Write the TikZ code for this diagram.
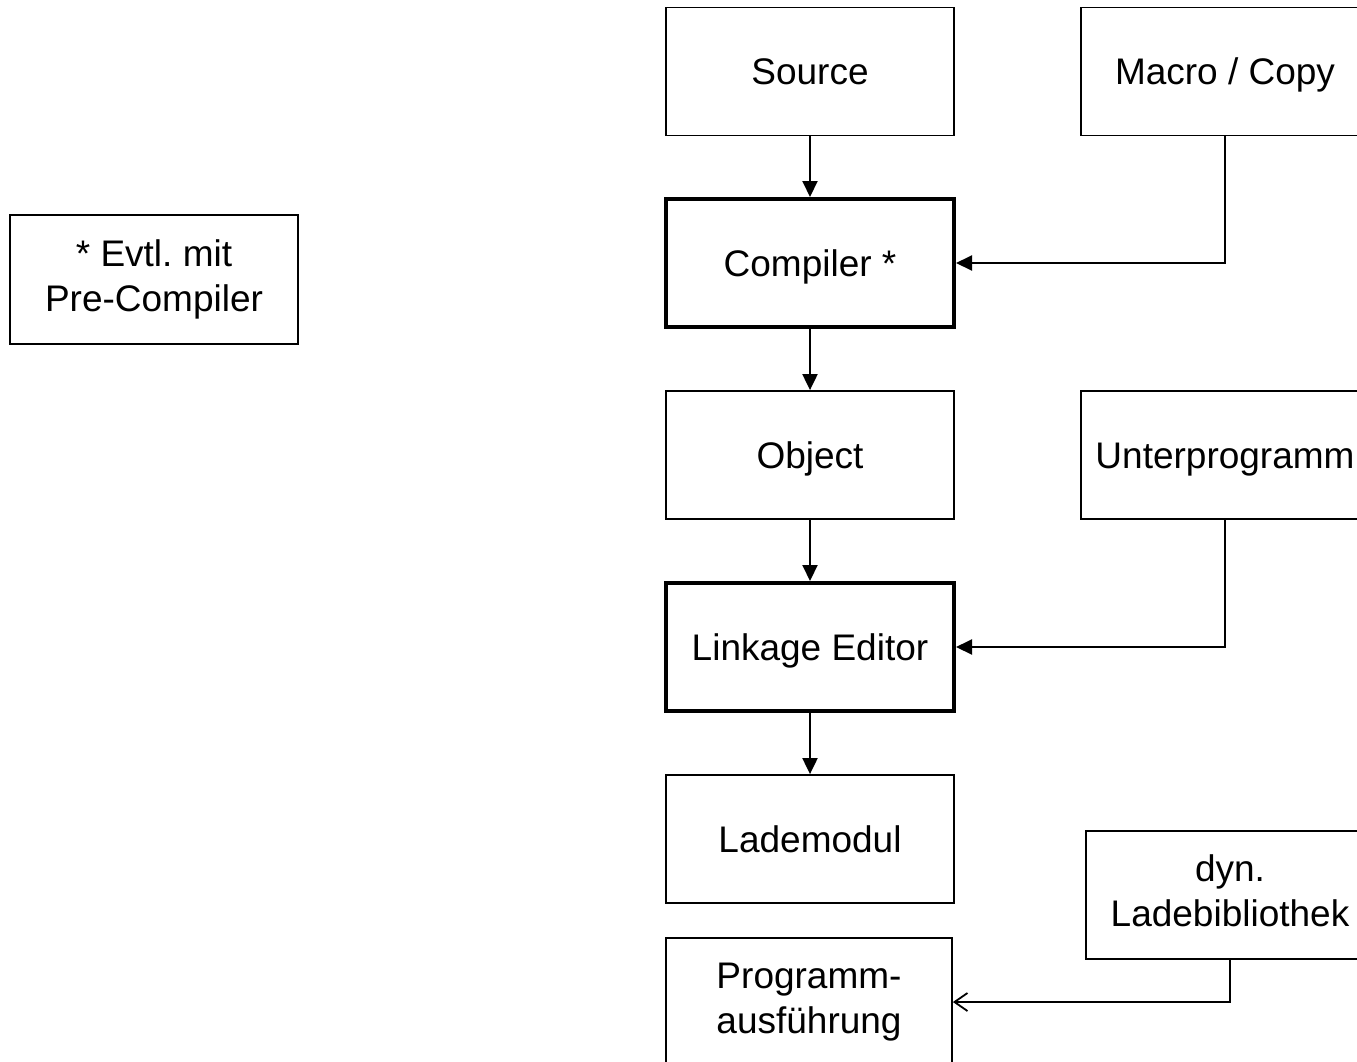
\documentclass[tikz,border=0pt]{standalone}
\usepackage{fontspec}
\setmainfont{Liberation Sans}
\usetikzlibrary{arrows.meta}
\frenchspacing

% invisible strut that fixes the height of the first and the depth of the last line
\newcommand\linestrut{\rule[-8pt]{0pt}{42pt}}

\tikzset{
  box/.style={draw=black, line width=1.8pt, fill=white, minimum width=288pt,
    minimum height=128pt, inner sep=0pt, align=center,
    font=\fontsize{37}{45}\selectfont,
    execute at begin node=\linestrut, execute at end node=\linestrut},
  boldbox/.style={box, line width=4pt},
  flow/.style={line width=2pt, -{Triangle[length=16pt,width=15pt]}},
  lightflow/.style={line width=1.8pt, -{Straight Barb[length=13pt,width=18pt,line width=1.8pt]}}
}

\begin{document}
\begin{tikzpicture}[x=1pt, y=-1pt]
  % page frame; boxes at the edges run off the sheet
  \fill[white] (0,0) rectangle (1357,1061);
  \clip (0,0) rectangle (1357,1061);

  % main chain
  \node[box]     (src)  at (810, 71.5) {Source};
  \node[boldbox] (comp) at (810, 263)  {Compiler *};
  \node[box]     (obj)  at (810, 455)  {Object};
  \node[boldbox] (link) at (810, 647)  {Linkage Editor};
  \node[box]     (lade) at (810, 839)  {Lademodul};
  \node[box, minimum width=286pt] (prog) at (809, 1002) {Programm-\\ausführung};

  % side inputs
  \node[box] (mac) at (1225, 71.5) {Macro / Copy};
  \node[box] (unt) at (1225, 455)  {Unterprogramm};
  \node[box] (dyn) at (1230, 895)  {dyn.\\Ladebibliothek};

  % footnote
  \node[box, minimum height=129pt] (note) at (154, 279.5) {* Evtl. mit\\Pre-Compiler};

  % connectors
  \draw[flow] (src) -- (comp);
  \draw[flow] (comp) -- (obj);
  \draw[flow] (obj) -- (link);
  \draw[flow] (link) -- (lade);
  \draw[flow] (mac.south) |- (comp.east);
  \draw[flow] (unt.south) |- (link.east);
  \draw[lightflow] (dyn.south) |- (prog.east);
\end{tikzpicture}
\end{document}
